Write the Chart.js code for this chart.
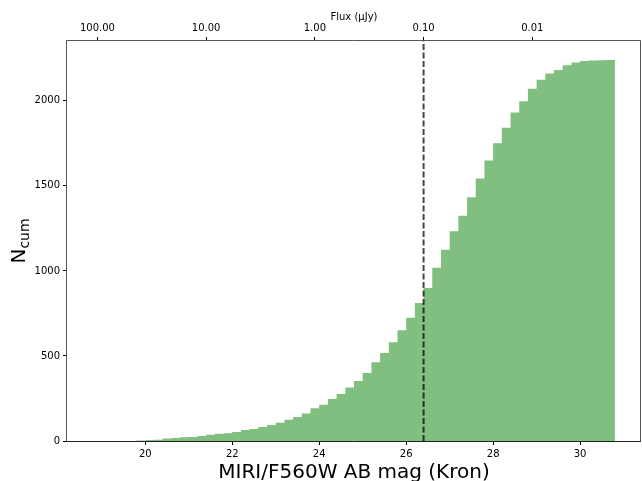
<!DOCTYPE html>
<html>
<head>
<meta charset="utf-8">
<script src="https://cdn.jsdelivr.net/npm/chart.js@4.4.1/dist/chart.umd.min.js"></script>
<style>
  html, body { margin: 0; padding: 0; background: #fff; }
  canvas { display: block; }
</style>
</head>
<body>
<canvas id="histChart" width="642" height="481"></canvas>
<script>
// Cumulative histogram of MIRI/F560W Kron magnitudes

// Left bin edges (AB mag), 0.2 mag wide, last value closes the final bin
const binEdges = [
    18.8, 19.0, 19.2, 19.4, 19.6, 19.8, 20.0, 20.2, 20.4, 20.6,
    20.8, 21.0, 21.2, 21.4, 21.6, 21.8, 22.0, 22.2, 22.4, 22.6,
    22.8, 23.0, 23.2, 23.4, 23.6, 23.8, 24.0, 24.2, 24.4, 24.6,
    24.8, 25.0, 25.2, 25.4, 25.6, 25.8, 26.0, 26.2, 26.4, 26.6,
    26.8, 27.0, 27.2, 27.4, 27.6, 27.8, 28.0, 28.2, 28.4, 28.6,
    28.8, 29.0, 29.2, 29.4, 29.6, 29.8, 30.0, 30.2, 30.4, 30.6,
    30.8
];

// Cumulative source counts per bin
const cumCounts = [
    0, 0, 0, 0, 0, 3, 6, 8, 14, 18,
    22, 24, 29, 37, 43, 46, 53, 65, 71, 82,
    94, 108, 125, 141, 161, 192, 213, 247, 277, 315,
    353, 400, 463, 518, 580, 651, 725, 811, 899, 1018,
    1124, 1234, 1325, 1433, 1543, 1649, 1751, 1842, 1931, 1998,
    2071, 2124, 2161, 2182, 2210, 2225, 2235, 2237, 2239, 2240
];

const magTicks = [20, 22, 24, 26, 28, 30];
const countTicks = [0, 500, 1000, 1500, 2000];
const fluxTicks = [100, 10, 1, 0.1, 0.01];   // uJy, top axis
const fluxLimit = 0.1;                        // uJy, dashed line
const zeroPoint = 23.9;                       // AB mag of 1 uJy

const xMin = 18.2, xMax = 31.4, yMax = 2352;
const FONT = 'DejaVu Sans';

function fluxToMag(f) {
    return zeroPoint - 2.5 * Math.log10(f);
}

// Step outline points: each count holds from its edge to the next edge
const histPoints = cumCounts.map((c, i) => ({ x: binEdges[i], y: c }));
histPoints.push({ x: binEdges[binEdges.length - 1], y: cumCounts[cumCounts.length - 1] });
histPoints.push({ x: binEdges[binEdges.length - 1], y: 0 });

const limitMag = fluxToMag(fluxLimit);

// Frame + axis titles
const labelsPlugin = {
    id: 'labels',
    afterDraw(chart) {
        const ctx = chart.ctx;
        const a = chart.chartArea;
        const cx = (a.left + a.right) / 2;
        ctx.save();

        // frame
        ctx.lineWidth = 1;
        ctx.strokeStyle = '#555';
        ctx.beginPath();
        ctx.moveTo(a.left - 0.5, a.bottom);
        ctx.lineTo(a.left - 0.5, a.top - 0.5);
        ctx.lineTo(a.right - 0.5, a.top - 0.5);
        ctx.lineTo(a.right - 0.5, a.bottom);
        ctx.stroke();
        ctx.strokeStyle = '#222';
        ctx.beginPath();
        ctx.moveTo(a.left - 1, a.bottom + 0.5);
        ctx.lineTo(a.right, a.bottom + 0.5);
        ctx.stroke();

        ctx.fillStyle = '#000';
        // bottom title
        ctx.font = '20px "' + FONT + '"';
        ctx.textAlign = 'center';
        ctx.textBaseline = 'alphabetic';
        ctx.fillText('MIRI/F560W AB mag (Kron)', cx, 478);

        // top title
        ctx.font = '10px "' + FONT + '"';
        ctx.textBaseline = 'middle';
        ctx.fillText('Flux (\u03BCJy)', cx, 17);

        // y title: N with subscript cum
        ctx.translate(25, 241);
        ctx.rotate(-Math.PI / 2);
        ctx.textAlign = 'left';
        ctx.textBaseline = 'alphabetic';
        ctx.font = '20px "' + FONT + '"';
        const wN = ctx.measureText('N').width;
        ctx.font = '14px "' + FONT + '"';
        const wSub = ctx.measureText('cum').width;
        const x0 = -(wN + wSub) / 2;
        ctx.font = '20px "' + FONT + '"';
        ctx.fillText('N', x0, 0);
        ctx.font = '14px "' + FONT + '"';
        ctx.fillText('cum', x0 + wN, 4);
        ctx.restore();
    }
};

const tickFont = { family: FONT, size: 10 };

new Chart(document.getElementById('histChart'), {
    type: 'line',
    data: {
        datasets: [
            {
                label: 'flux limit',
                data: [{ x: limitMag, y: 0 }, { x: limitMag, y: yMax }],
                borderColor: 'rgba(0, 0, 0, 0.72)',
                borderWidth: 2,
                borderDash: [6, 2.5],
                pointRadius: 0,
                fill: false,
                order: 0
            },
            {
                label: 'N cum',
                data: histPoints,
                stepped: true,
                borderColor: '#80bf80',
                backgroundColor: '#80bf80',
                borderWidth: 0,
                pointRadius: 0,
                fill: 'origin',
                order: 1
            }
        ]
    },
    options: {
        responsive: false,
        animation: false,
        devicePixelRatio: 1,
        layout: { padding: { left: 0, right: 1, top: 0, bottom: 0 } },
        plugins: {
            legend: { display: false },
            tooltip: { enabled: false }
        },
        scales: {
            x: {
                type: 'linear',
                position: 'bottom',
                min: xMin,
                max: xMax,
                afterBuildTicks: s => { s.ticks = magTicks.map(v => ({ value: v })); },
                afterFit: s => { s.height = 40; },
                ticks: {
                    font: tickFont, color: '#000', padding: 3,
                    maxRotation: 0, autoSkip: false,
                    callback: v => String(v)
                },
                grid: { drawOnChartArea: false, tickLength: 4, tickColor: '#000' },
                border: { display: false }
            },
            x2: {
                type: 'linear',
                position: 'top',
                min: xMin,
                max: xMax,
                afterBuildTicks: s => { s.ticks = fluxTicks.map(f => ({ value: fluxToMag(f) })); },
                afterFit: s => { s.height = 41; },
                ticks: {
                    font: tickFont, color: '#000', padding: 3,
                    maxRotation: 0, autoSkip: false,
                    callback: (v, i) => fluxTicks[i].toFixed(2)
                },
                grid: { drawOnChartArea: false, tickLength: 4, tickColor: '#000' },
                border: { display: false }
            },
            y: {
                type: 'linear',
                min: 0,
                max: yMax,
                afterBuildTicks: s => { s.ticks = countTicks.map(v => ({ value: v })); },
                afterFit: s => { s.width = 67; },
                ticks: {
                    font: tickFont, color: '#000', padding: 3,
                    callback: v => String(v)
                },
                grid: { drawOnChartArea: false, tickLength: 4, tickColor: '#000' },
                border: { display: false }
            }
        }
    },
    plugins: [labelsPlugin]
});
</script>
</body>
</html>
